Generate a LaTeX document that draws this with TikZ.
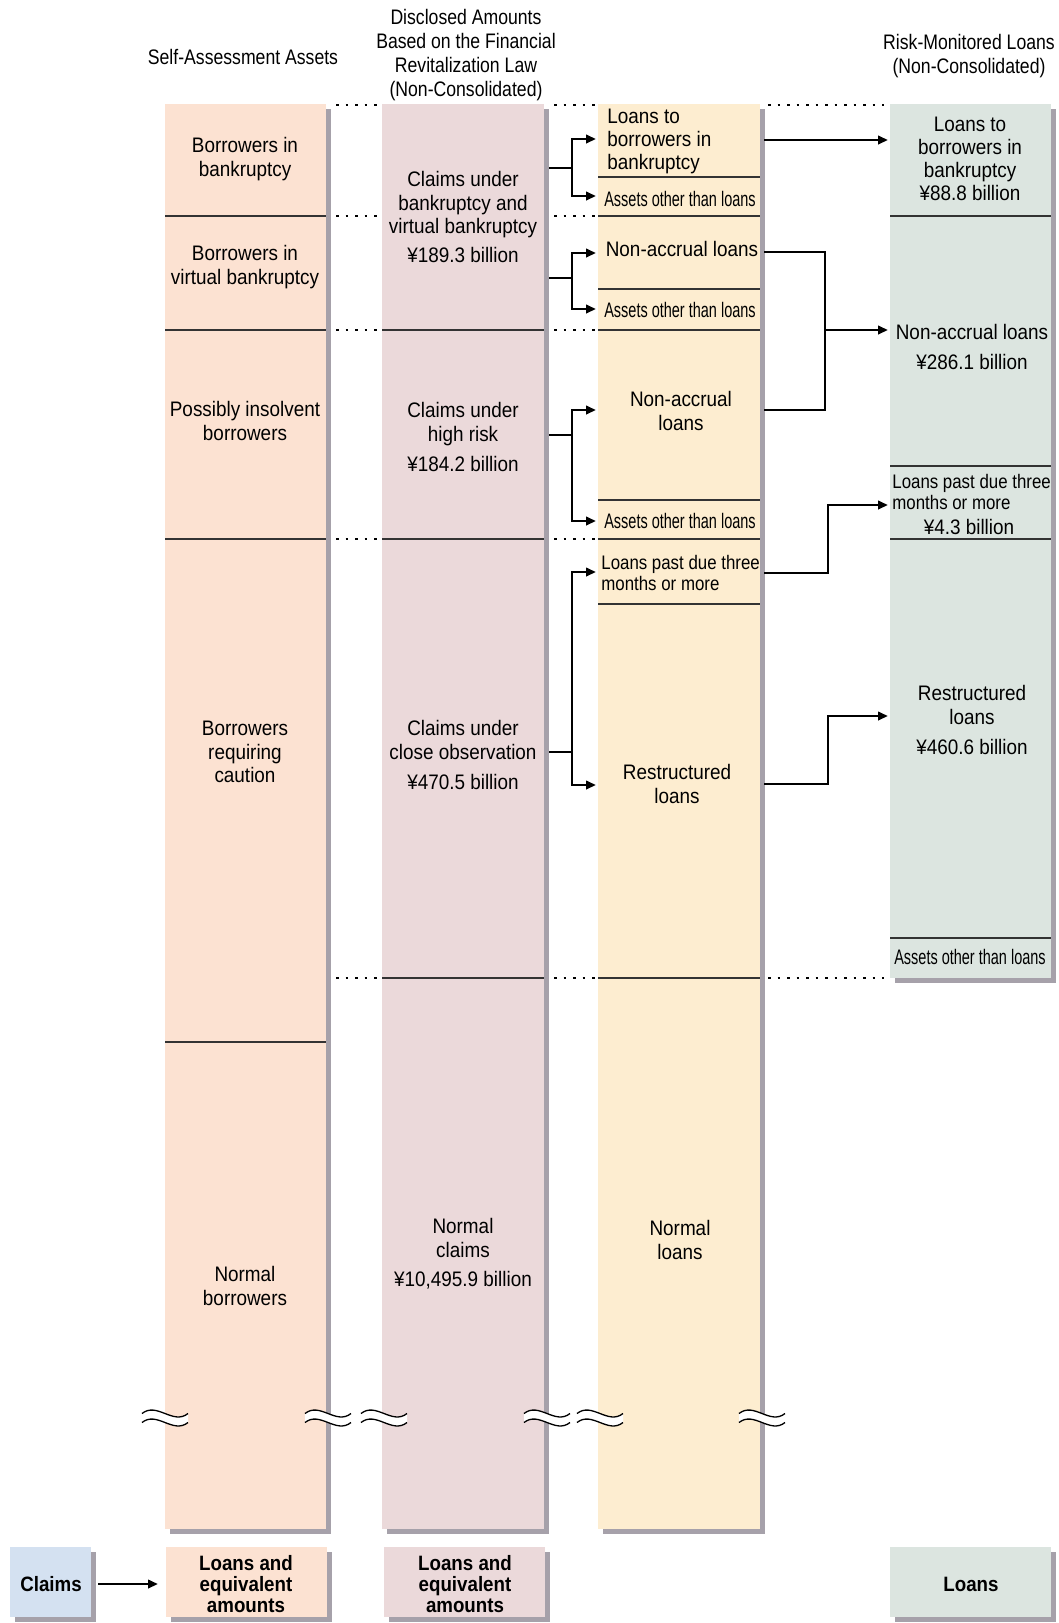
\documentclass[tikz,border=0pt]{standalone}
\usepackage{fontspec}
\setmainfont{Liberation Sans}[FakeStretch=0.9]
\newfontfamily\headfont{Liberation Sans}[FakeStretch=0.84]
\newfontfamily\pastfont{Liberation Sans}[FakeStretch=0.86]
\newfontfamily\narrowfont{Liberation Sans}[FakeStretch=0.69]
\usetikzlibrary{arrows.meta}
\definecolor{cA}{RGB}{252,226,210}
\definecolor{cB}{RGB}{235,217,218}
\definecolor{cC}{RGB}{253,237,208}
\definecolor{cD}{RGB}{220,229,224}
\definecolor{cE}{RGB}{212,225,241}
\definecolor{shd}{RGB}{166,161,170}
\newcommand\colrect[5]{%
  \fill[shd] (#1+5,#2+5) rectangle (#3+5,#4+5);
  \fill[#5] (#1,#2) rectangle (#3,#4);}
\newcommand\wavemark[2]{%
  \fill[white] (#1-23,#2-4.5) .. controls (#1-8,#2-16.5) and (#1+8,#2+7.5) .. (#1+23,#2-4.5)
     -- (#1+23,#2+4.5) .. controls (#1+8,#2+16.5) and (#1-8,#2-7.5) .. (#1-23,#2+4.5) -- cycle;
  \draw[waveline] (#1-23,#2-4.5) .. controls (#1-8,#2-16.5) and (#1+8,#2+7.5) .. (#1+23,#2-4.5);
  \draw[waveline] (#1-23,#2+4.5) .. controls (#1-8,#2-7.5) and (#1+8,#2+16.5) .. (#1+23,#2+4.5);}
\begin{document}
\begin{tikzpicture}[x=0.5pt,y=-0.5pt,
  body/.style={align=center,inner sep=0pt,font=\fontsize{10.5}{11.8}\selectfont},
  tight/.style={align=center,inner sep=0pt,font=\fontsize{10.5}{11.5}\selectfont},
  head/.style={align=center,inner sep=0pt,font=\headfont\fontsize{10.5}{12.1}\selectfont},
  past/.style={align=left,anchor=west,inner sep=0pt,font=\pastfont\fontsize{9.8}{10.9}\selectfont},
  narrow/.style={inner sep=0pt,font=\narrowfont\fontsize{10.5}{12}\selectfont},
  boldlbl/.style={align=center,inner sep=0pt,font=\bfseries\fontsize{10.4}{10.5}\selectfont},
  divider/.style={draw=black!80,line width=0.65pt},
  dots/.style={line width=1.35pt,dash pattern=on 1.35pt off 3.4pt},
  conn/.style={line width=1.35pt,-{Triangle[length=5pt,width=4.2pt]}},
  link/.style={line width=1.35pt},
  waveline/.style={line width=0.65pt}
]
\useasboundingbox (0,0) rectangle (1059,1623);
\fill[white] (0,0) rectangle (1059,1623);

% columns
\colrect{165}{104}{326}{1529}{cA}
\colrect{382}{104}{544}{1529}{cB}
\colrect{598}{104}{760}{1529}{cC}
\colrect{890}{104}{1051}{978}{cD}

% bottom boxes
\colrect{10}{1547}{91}{1617}{cE}
\colrect{166}{1547}{327}{1617}{cA}
\colrect{384}{1547}{545}{1617}{cB}
\colrect{890}{1547}{1051}{1617}{cD}

% dividers
\foreach \y in {216,330,539,1042} \draw[divider] (165,\y) -- (326,\y);
\foreach \y in {330,539,978} \draw[divider] (382,\y) -- (544,\y);
\foreach \y in {177,216,289,330,500,539,604,978} \draw[divider] (598,\y) -- (760,\y);
\foreach \y in {216,466,539,938} \draw[divider] (890,\y) -- (1051,\y);

% dotted guides
\foreach \y in {105,216,330,539,978} {
  \draw[dots] (336,\y) -- (377,\y);
  \draw[dots] (554,\y) -- (595,\y);}
\foreach \y in {105,978} \draw[dots] (768,\y) -- (884,\y);

% wave breaks
\wavemark{165}{1418}
\wavemark{328}{1418}
\wavemark{384}{1418}
\wavemark{547}{1418}
\wavemark{600}{1418}
\wavemark{762}{1418}

% headers
\node[head] (h1) at (243,57) {Self-Assessment Assets};
\node[head] (h2) at (466,55) {Disclosed Amounts\\Based on the Financial\\Revitalization Law\\(Non-Consolidated)};
\node[head] (h3) at (969,56) {Risk-Monitored Loans\\(Non-Consolidated)};

% column 1
\node[body] (sa1) at (245,159) {Borrowers in\\bankruptcy};
\node[body] (sa2) at (245,267) {Borrowers in\\virtual bankruptcy};
\node[body] (sa3) at (245,421) {Possibly insolvent\\borrowers};
\node[body] (sa4) at (245,752) {Borrowers\\requiring\\caution};
\node[body] (sa5) at (245,1286) {Normal\\borrowers};

% column 2
\node[body] (fr1) at (463,217) {Claims under\\bankruptcy and\\virtual bankruptcy\\[2.5pt]¥189.3 billion};
\node[body] (fr2) at (463,437) {Claims under\\high risk\\[3pt]¥184.2 billion};
\node[body] (fr3) at (463,755) {Claims under\\close observation\\[3pt]¥470.5 billion};
\node[body] (fr4) at (463,1254) {Normal\\claims\\[3pt]¥10,495.9 billion};

% column 3
\node[tight,align=left,anchor=west] (ln1) at (607,141) {Loans to\\borrowers in\\bankruptcy};
\node[narrow] (ln2) at (680,199) {Assets other than loans};
\node[body] (ln3) at (682,249) {Non-accrual loans};
\node[narrow] (ln4) at (680,310) {Assets other than loans};
\node[body] (ln5) at (681,411) {Non-accrual\\loans};
\node[narrow] (ln6) at (680,521) {Assets other than loans};
\node[past] (ln7) at (601,573) {Loans past due three\\months or more};
\node[body] (ln8) at (677,784) {Restructured\\loans};
\node[body] (ln9) at (680,1240) {Normal\\loans};

% column 4
\node[tight] (rm1) at (970,159) {Loans to\\borrowers in\\bankruptcy\\¥88.8 billion};
\node[body] (rm2) at (972,347) {Non-accrual loans\\[3.5pt]¥286.1 billion};
\node[past] (rm3) at (892,492) {Loans past due three\\months or more};
\node[body] (rm4) at (969,527) {¥4.3 billion};
\node[body] (rm5) at (972,720) {Restructured\\loans\\[3pt]¥460.6 billion};
\node[narrow] (rm6) at (970,957) {Assets other than loans};

% bottom legend
\node[boldlbl] (b0) at (51,1584) {Claims};
\node[boldlbl] (b1) at (246,1584) {Loans and\\equivalent\\amounts};
\node[boldlbl] (b2) at (465,1584) {Loans and\\equivalent\\amounts};
\node[boldlbl] (b3) at (971,1584) {Loans};

% connector coordinates (left side)
\coordinate (s1) at (549,168);  \coordinate (j1) at (572,168);
\coordinate (t1a) at (596,139); \coordinate (t1b) at (596,196);
\coordinate (s2) at (549,278);  \coordinate (j2) at (572,278);
\coordinate (t2a) at (596,253); \coordinate (t2b) at (596,309);
\coordinate (s3) at (549,435);  \coordinate (j3) at (572,435);
\coordinate (t3a) at (596,410); \coordinate (t3b) at (596,521);
\coordinate (s4) at (549,752);  \coordinate (j4) at (572,752);
\coordinate (t4a) at (596,572); \coordinate (t4b) at (596,785);
\foreach \i in {1,2,3,4} {
  \draw[link] (s\i) -- (j\i);
  \draw[conn] (j\i) |- (t\i a);
  \draw[conn] (j\i) |- (t\i b);}

% connector coordinates (right side)
\coordinate (r1a) at (764,140); \coordinate (r1t) at (888,140);
\draw[conn] (r1a) -- (r1t);
\coordinate (r2a) at (764,252); \coordinate (r2b) at (764,410);
\coordinate (r2j) at (825,330); \coordinate (r2t) at (888,330);
\draw[link] (r2a) -| (825,410) -- (r2b);
\draw[conn] (r2j) -- (r2t);
\coordinate (r3a) at (764,573); \coordinate (r3j) at (828,505); \coordinate (r3t) at (888,505);
\draw[conn] (r3a) -| (r3j) -- (r3t);
\coordinate (r4a) at (764,784); \coordinate (r4j) at (828,716); \coordinate (r4t) at (888,716);
\draw[conn] (r4a) -| (r4j) -- (r4t);

% legend arrow
\coordinate (la) at (98,1584); \coordinate (lb) at (158,1584);
\draw[conn] (la) -- (lb);
\end{tikzpicture}
\end{document}
